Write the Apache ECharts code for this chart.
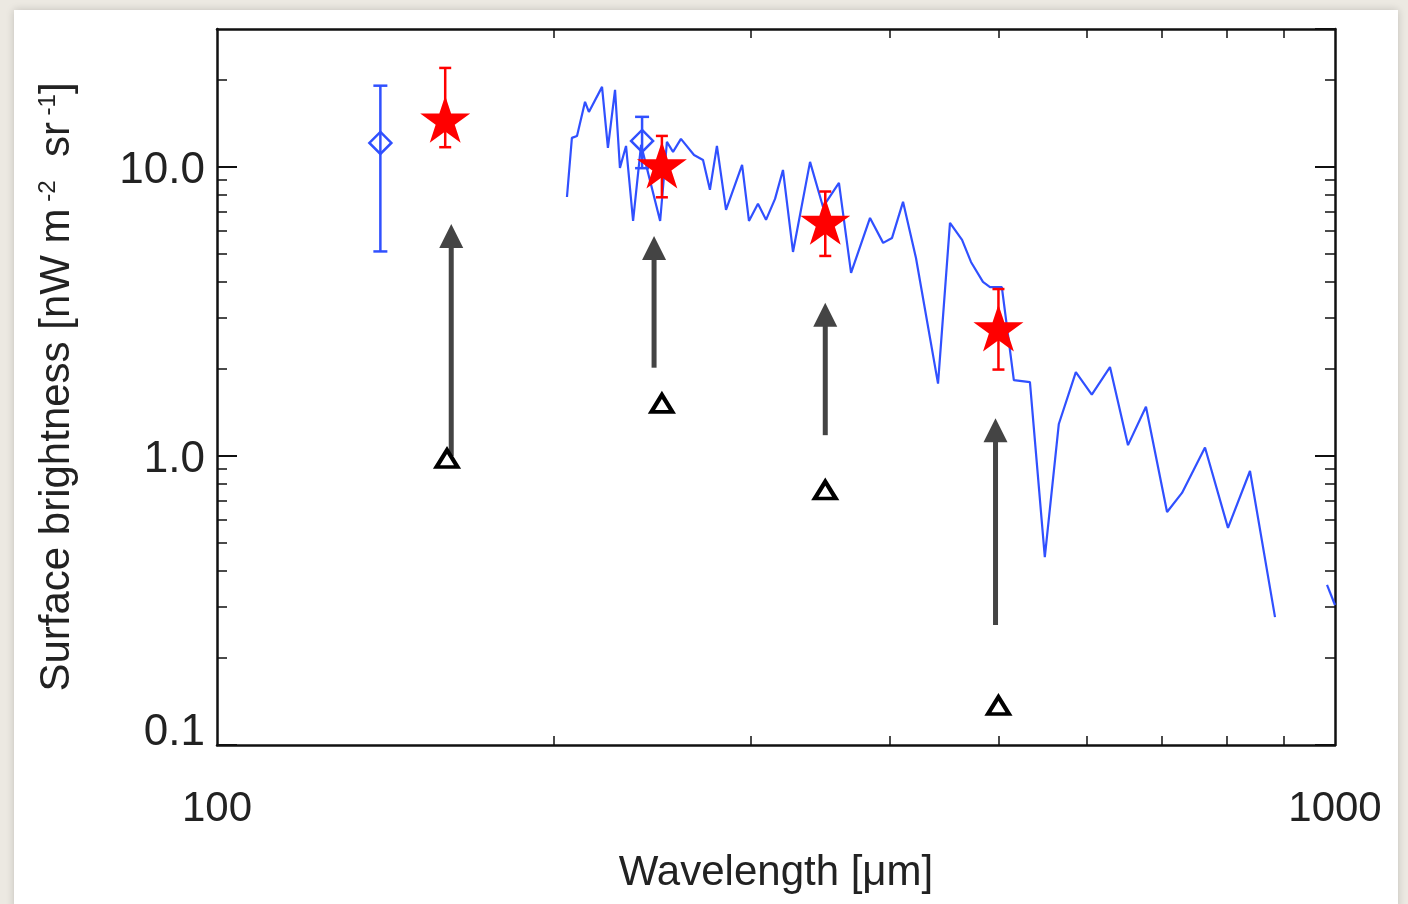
<!DOCTYPE html>
<html>
<head>
<meta charset="utf-8">
<script src="https://cdn.jsdelivr.net/npm/echarts@6/dist/echarts.min.js"></script>
<style>
  html, body { margin:0; padding:0; width:1408px; height:904px; overflow:hidden; background:#ece9e2; }
  #panel { position:absolute; left:14px; top:10px; width:1384px; height:900px; background:#ffffff; box-shadow:0 0 8px rgba(0,0,0,0.18); }
  #chart { position:absolute; left:0; top:0; width:1408px; height:904px; }
</style>
</head>
<body>
<div id="panel"></div>
<div id="chart"></div>
<script>
// ---- data ----
const specWl = [205.6, 207.7, 209.9, 213.4, 215.1, 221.0, 223.7, 227.0, 229.3, 232.2, 235.6, 239.5, 249.1, 252.6, 255.8, 260.0, 267.1, 272.1, 276.0, 280.0, 285.3, 294.9, 299.1, 304.7, 309.8, 315.6, 320.8, 327.5, 339.2, 348.4, 360.0, 369.1, 383.8, 394.3, 401.6, 410.8, 421.9, 441.5, 452.5, 463.9, 472.5, 484.3, 491.4, 503.5, 516.1, 533.5, 550.1, 566.2, 586.4, 606.0, 629.1, 652.9, 677.5, 707.6, 729.7, 765.1, 802.2, 839.4, 883.8];
const specVal = [7.87, 12.60, 12.80, 16.79, 15.50, 18.92, 11.63, 18.47, 9.92, 11.82, 6.50, 11.92, 6.50, 12.20, 11.27, 12.50, 11.00, 10.57, 8.33, 11.82, 7.10, 10.16, 6.50, 7.45, 6.56, 7.75, 9.76, 5.08, 10.41, 7.27, 8.81, 4.30, 6.66, 5.46, 5.68, 7.57, 4.84, 1.78, 6.40, 5.59, 4.69, 4.00, 3.84, 3.84, 1.83, 1.80, 0.447, 1.29, 1.95, 1.63, 2.03, 1.09, 1.48, 0.640, 0.745, 1.07, 0.564, 0.887, 0.277];
const specTailWl = [983.7, 1000];
const specTailVal = [0.358, 0.305];

const diamondWl = [140, 240];
const diamondVal = [12.1, 12.3];
const diamondLo = [5.1, 9.9];
const diamondHi = [19.1, 14.9];

const starWl = [160, 250, 350, 500];
const starVal = [14.4, 10.0, 6.38, 2.73];
const starLo = [11.7, 7.85, 4.92, 1.99];
const starHi = [22.0, 12.8, 8.22, 3.78];

const triWl = [160.6, 250, 350, 500];
const triVal = [0.98, 1.52, 0.762, 0.137];

const arrowWl = [162, 246, 350, 497];
const arrowFrom = [1.0, 2.02, 1.18, 0.26];
const arrowTo = [6.35, 5.77, 3.39, 1.35];

const xMinorTicks = [200, 300, 400, 500, 600, 700, 800, 900];
const yMinorTicks = [0.2, 0.3, 0.4, 0.5, 0.6, 0.7, 0.8, 0.9, 2, 3, 4, 5, 6, 7, 8, 9, 20];
const xLabelText = ['100', '1000'];
const yLabelText = ['0.1', '1.0', '10.0'];

// ---- styling ----
const FONT = 'Liberation Sans, Arial, Helvetica, sans-serif';
const TXT = '#222';
const AX = '#111';
const BLUE = '#3050ff';
const RED = '#ff0000';
const GREY = '#444444';
const STAR = 'path://M50,0 L61.23,34.55 L97.55,34.55 L68.17,55.9 L79.39,90.45 L50,69.1 L20.61,90.45 L31.83,55.9 L2.45,34.55 L38.77,34.55 Z';

const zip2 = (a, b) => a.map((v, i) => [v, b[i]]);
const zip3 = (a, b, c) => a.map((v, i) => [v, b[i], c[i]]);

function errRender(capW, color, lw) {
  return function (params, api) {
    const x = api.value(0);
    const lo = api.coord([x, api.value(1)]);
    const hi = api.coord([x, api.value(2)]);
    const st = { stroke: color, lineWidth: lw };
    return { type: 'group', children: [
      { type: 'line', shape: { x1: lo[0], y1: lo[1], x2: hi[0], y2: hi[1] }, style: st },
      { type: 'line', shape: { x1: lo[0] - capW / 2, y1: lo[1], x2: lo[0] + capW / 2, y2: lo[1] }, style: st },
      { type: 'line', shape: { x1: hi[0] - capW / 2, y1: hi[1], x2: hi[0] + capW / 2, y2: hi[1] }, style: st }
    ]};
  };
}

function arrowRender(params, api) {
  const x = api.value(0);
  const p0 = api.coord([x, api.value(1)]);
  const p1 = api.coord([x, api.value(2)]);
  const hl = 24, hw = 24;
  return { type: 'group', children: [
    { type: 'line', shape: { x1: p0[0], y1: p0[1], x2: p1[0], y2: p1[1] + hl - 1 }, style: { stroke: GREY, lineWidth: 5 } },
    { type: 'polygon', shape: { points: [[p1[0], p1[1]], [p1[0] - hw / 2, p1[1] + hl], [p1[0] + hw / 2, p1[1] + hl]] }, style: { fill: GREY } }
  ]};
}

function xAxisDef(pos, withLabels) {
  return {
    type: 'log', logBase: 10, min: 100, max: 1000, interval: 1, position: pos,
    axisLine: { show: true, onZero: false, lineStyle: { color: AX, width: 2.5 } },
    axisTick: { show: true, inside: true, length: 9, customValues: xMinorTicks, lineStyle: { color: AX, width: 1.5 } },
    axisLabel: withLabels ? {
      show: true, margin: 43, color: TXT, fontSize: 42, fontFamily: FONT,
      formatter: v => (v < 300 ? xLabelText[0] : xLabelText[1])
    } : { show: false },
    splitLine: { show: false },
    name: withLabels ? 'Wavelength [μm]' : '',
    nameLocation: 'middle', nameGap: 107,
    nameTextStyle: { fontSize: 42, color: TXT, fontFamily: FONT }
  };
}

function yAxisDef(pos, kind) {
  const base = {
    type: 'log', logBase: 10, min: 0.1, max: 30, interval: 1, position: pos,
    splitLine: { show: false }
  };
  if (kind === 'major') {
    Object.assign(base, {
      axisLine: { show: true, onZero: false, lineStyle: { color: AX, width: 2.5 } },
      axisTick: { show: true, inside: true, length: 20, lineStyle: { color: AX, width: 2 } },
      axisLabel: pos === 'left' ? {
        show: true, showMaxLabel: false, margin: 12, color: TXT, fontSize: 44, fontFamily: FONT,
        formatter: v => (v > 15 ? '' : v < 0.5 ? '{m|' + yLabelText[0] + '}' : v < 5 ? '{n|' + yLabelText[1] + '}' : '{n|' + yLabelText[2] + '}'),
        rich: {
          m: { fontSize: 44, fontFamily: FONT, color: TXT, padding: [0, 0, 24, 0] },
          n: { fontSize: 44, fontFamily: FONT, color: TXT, padding: [8, 0, 0, 0] }
        }
      } : { show: false }
    });
    if (pos === 'left') {
      Object.assign(base, {
        name: '{t|Surface brightness [nW m}{s| -2}{t|  sr}{s| -1}{t|]}',
        nameLocation: 'middle', nameGap: 139,
        nameTextStyle: {
          color: TXT, fontFamily: FONT, fontSize: 42,
          rich: {
            t: { fontSize: 42, fontFamily: FONT, color: TXT },
            s: { fontSize: 24, fontFamily: FONT, color: TXT, verticalAlign: 'top' }
          }
        }
      });
    }
  } else {
    Object.assign(base, {
      axisLine: { show: false },
      axisTick: { show: true, inside: true, length: 10, customValues: yMinorTicks, lineStyle: { color: AX, width: 1.5 } },
      axisLabel: { show: false }
    });
  }
  return base;
}

const chart = echarts.init(document.getElementById('chart'), null, { renderer: 'canvas' });
chart.setOption({
  animation: false,
  backgroundColor: 'transparent',
  grid: { left: 217, top: 29, width: 1118, height: 716, containLabel: false, outerBoundsMode: 'none' },
  xAxis: [xAxisDef('bottom', true), xAxisDef('top', false)],
  yAxis: [yAxisDef('left', 'major'), yAxisDef('left', 'minor'), yAxisDef('right', 'major'), yAxisDef('right', 'minor')],
  series: [
    { type: 'line', xAxisIndex: 0, yAxisIndex: 0, data: zip2(specWl, specVal), showSymbol: false, symbol: 'none',
      lineStyle: { color: BLUE, width: 2.2 }, clip: true, z: 2 },
    { type: 'line', xAxisIndex: 0, yAxisIndex: 0, data: zip2(specTailWl, specTailVal), showSymbol: false, symbol: 'none',
      lineStyle: { color: BLUE, width: 2.2 }, clip: true, z: 2 },
    { type: 'custom', xAxisIndex: 0, yAxisIndex: 0, renderItem: arrowRender,
      data: zip3(arrowWl, arrowFrom, arrowTo), encode: { x: 0, y: [1, 2] }, z: 3 },
    { type: 'scatter', xAxisIndex: 0, yAxisIndex: 0, data: zip2(triWl, triVal), symbol: 'triangle', symbolSize: [21, 17],
      itemStyle: { color: 'rgba(255,255,255,0)', borderColor: '#000', borderWidth: 4, opacity: 1 }, z: 4 },
    { type: 'custom', xAxisIndex: 0, yAxisIndex: 0, renderItem: errRender(14, BLUE, 2.5),
      data: zip3(diamondWl, diamondLo, diamondHi), encode: { x: 0, y: [1, 2] }, z: 5 },
    { type: 'scatter', xAxisIndex: 0, yAxisIndex: 0, data: zip2(diamondWl, diamondVal), symbol: 'diamond', symbolSize: [22, 22],
      itemStyle: { color: 'rgba(255,255,255,0)', borderColor: BLUE, borderWidth: 2.5, opacity: 1 }, z: 5 },
    { type: 'custom', xAxisIndex: 0, yAxisIndex: 0, renderItem: errRender(12, RED, 2.5),
      data: zip3(starWl, starLo, starHi), encode: { x: 0, y: [1, 2] }, z: 6 },
    { type: 'scatter', xAxisIndex: 0, yAxisIndex: 0, data: zip2(starWl, starVal), symbol: STAR, symbolSize: [50, 47],
      symbolOffset: [0, -2], itemStyle: { color: RED, opacity: 1 }, z: 7 }
  ]
});
</script>
</body>
</html>
